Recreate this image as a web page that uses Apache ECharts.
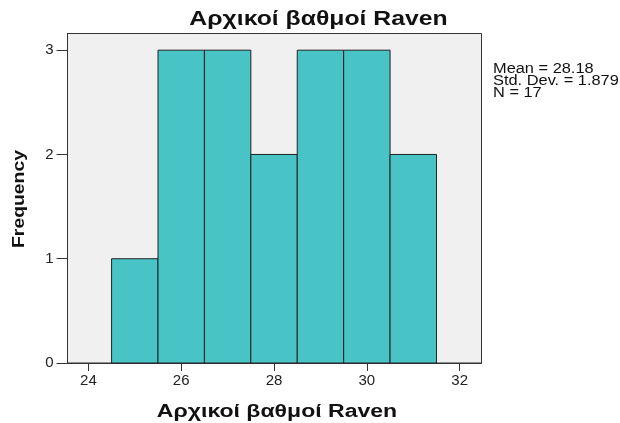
<!DOCTYPE html>
<html><head><meta charset="utf-8">
<script src="https://cdn.jsdelivr.net/npm/echarts@6/dist/echarts.min.js"></script>
<style>html,body{margin:0;padding:0;background:#fff}#c{width:620px;height:423px}</style>
</head><body><div id="c"></div>
<script>
const binStart = [24.5, 25.5, 26.5, 27.5, 28.5, 29.5, 30.5];
const binEnd   = [25.5, 26.5, 27.5, 28.5, 29.5, 30.5, 31.5];
const frequency = [1, 3, 3, 2, 3, 3, 2];
const xTicks = [24, 26, 28, 30, 32];
const yTicks = [0, 1, 2, 3];
const titleText = 'Αρχικοί βαθμοί Raven';
const xName = 'Αρχικοί βαθμοί Raven';
const yName = 'Frequency';
const statsLines = ['Mean = 28.18', 'Std. Dev. = 1.879', 'N = 17'];

const data = binStart.map((s, i) => [s, binEnd[i], frequency[i]]);
const font = 'Arial, "Liberation Sans", sans-serif';
const statsY = [69, 81.3, 93.3];
const graphics = [
  {type: 'text', x: 318.5, y: 19.5, scaleX: 1.27,
    style: {text: titleText, font: 'bold 19.5px ' + font, fill: '#111', align: 'center', verticalAlign: 'middle'}},
  {type: 'text', x: 277, y: 412, scaleX: 1.28,
    style: {text: xName, font: 'bold 18px ' + font, fill: '#111', align: 'center', verticalAlign: 'middle'}},
  {type: 'text', x: 19.5, y: 199, rotation: Math.PI / 2, scaleX: 1.14,
    style: {text: yName, font: 'bold 17px ' + font, fill: '#111', align: 'center', verticalAlign: 'middle'}}
].concat(statsLines.map((t, i) => ({type: 'text', x: 493, y: statsY[i], scaleX: 1.17,
    style: {text: t, font: '14px ' + font, fill: '#111', align: 'left', verticalAlign: 'middle'}})));

const chart = echarts.init(document.getElementById('c'), null, {renderer: 'canvas'});
chart.setOption({
  animation: false,
  grid: {left: 67.5, right: 138.5, top: 33.5, bottom: 60, show: true,
    backgroundColor: '#F0F0F0', borderColor: '#333', borderWidth: 1},
  graphic: graphics,
  xAxis: {type: 'value', min: 23.55, max: 32.47,
    axisLine: {show: true, lineStyle: {color: '#333'}},
    axisTick: {show: true, length: 8, lineStyle: {color: '#333'}, customValues: xTicks},
    axisLabel: {fontFamily: font, fontSize: 15, color: '#222', margin: 10, customValues: xTicks, showMinLabel: true, showMaxLabel: true},
    splitLine: {show: false}},
  yAxis: {type: 'value', min: 0, max: 3.16,
    axisLine: {show: true, lineStyle: {color: '#333'}},
    axisTick: {show: true, length: 11, lineStyle: {color: '#333'}, customValues: yTicks},
    axisLabel: {fontFamily: font, fontSize: 15, color: '#222', margin: 14, customValues: yTicks},
    splitLine: {show: false}},
  series: [{type: 'custom', data: data, encode: {x: [0, 1], y: 2},
    renderItem: function (params, api) {
      const p0 = api.coord([api.value(0), 0]);
      const p1 = api.coord([api.value(1), api.value(2)]);
      return {type: 'rect', shape: {x: p0[0], y: p1[1], width: p1[0] - p0[0], height: p0[1] - p1[1]},
        style: {fill: '#48C3C6', stroke: '#222', lineWidth: 1}};
    }}]
});
</script></body></html>
